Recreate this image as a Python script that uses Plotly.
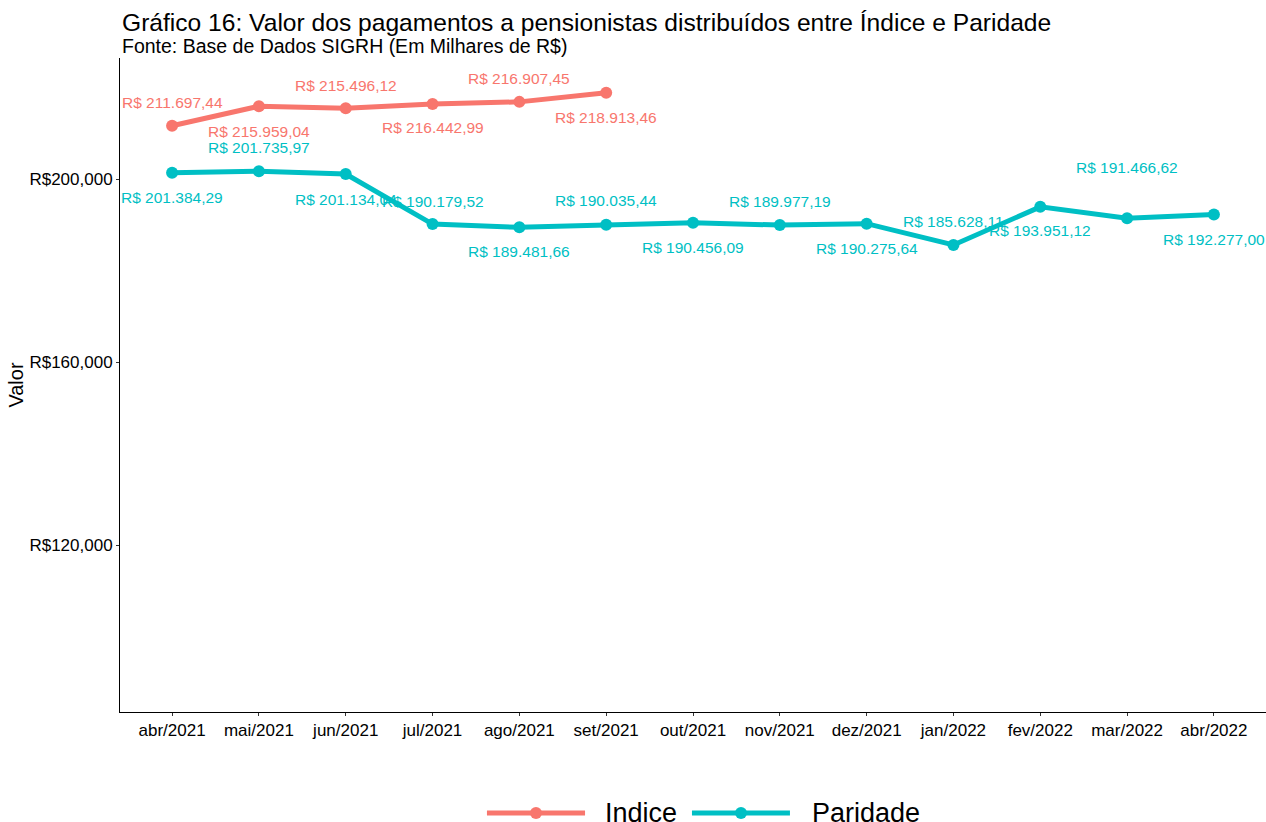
import plotly.graph_objects as go

months = ["abr/2021", "mai/2021", "jun/2021", "jul/2021", "ago/2021", "set/2021",
          "out/2021", "nov/2021", "dez/2021", "jan/2022", "fev/2022", "mar/2022", "abr/2022"]
indice = [211697.44, 215959.04, 215496.12, 216442.99, 216907.45, 218913.46]
paridade = [201384.29, 201735.97, 201134.04, 190179.52, 189481.66, 190035.44,
            190456.09, 189977.19, 190275.64, 185628.11, 193951.12, 191466.62, 192277.00]
series_names = ["Indice", "Paridade"]

# label vertical offsets (pixels, positive = up)
indice_shift = [23, -25, 23, -24, 23, -25]
paridade_shift = [-25, 24, -25, 23, -24, 24, -25, 24, -25, 23, -24, 51, -25]

C_IND = "#F8766D"
C_PAR = "#00BFC4"
FONT = "Liberation Sans, Arial, sans-serif"


def fmt_brl(v):
    s = f"{v:,.2f}"
    s = s.replace(",", "X").replace(".", ",").replace("X", ".")
    return "R$ " + s


fig = go.Figure()
fig.add_trace(go.Scatter(x=months[:len(indice)], y=indice, mode="lines+markers", name=series_names[0],
                         line=dict(color=C_IND, width=5), marker=dict(size=12, color=C_IND),
                         showlegend=False))
fig.add_trace(go.Scatter(x=months, y=paridade, mode="lines+markers", name=series_names[1],
                         line=dict(color=C_PAR, width=5), marker=dict(size=12, color=C_PAR),
                         showlegend=False))

annotations = []
for series, shifts, col in ((indice, indice_shift, C_IND), (paridade, paridade_shift, C_PAR)):
    for m, v, s in zip(months, series, shifts):
        annotations.append(dict(x=m, y=v, xref="x", yref="y", text=fmt_brl(v), showarrow=False,
                                yshift=s, font=dict(family=FONT, size=15.5, color=col)))

annotations.append(dict(x=0, y=1.0, xref="paper", yref="paper", xanchor="left", yanchor="bottom",
                        yshift=20, text="Gráfico 16: Valor dos pagamentos a pensionistas distribuídos entre Índice e Paridade",
                        showarrow=False, font=dict(family=FONT, size=24.6, color="black")))
annotations.append(dict(x=0, y=1.0, xref="paper", yref="paper", xanchor="left", yanchor="bottom",
                        yshift=-1, text="Fonte: Base de Dados SIGRH (Em Milhares de R$)",
                        showarrow=False, font=dict(family=FONT, size=19.5, color="black")))

# manual legend (paper coordinates)
shapes = []
leg_y = -0.1544
for name, col, x0, x1, xm, xt in ((series_names[0], C_IND, 0.3202, 0.4058, 0.363, 0.4215),
                                  (series_names[1], C_PAR, 0.4991, 0.5846, 0.5419, 0.6021)):
    shapes.append(dict(type="line", xref="paper", yref="paper", x0=x0, x1=x1, y0=leg_y, y1=leg_y,
                       line=dict(color=col, width=5)))
    shapes.append(dict(type="circle", xref="paper", yref="paper", xsizemode="pixel", ysizemode="pixel",
                       xanchor=xm, yanchor=leg_y, x0=-6, x1=6, y0=-6, y1=6,
                       fillcolor=col, line=dict(color=col, width=0)))
    annotations.append(dict(x=xt, y=leg_y, xref="paper", yref="paper", xanchor="left", yanchor="middle",
                            text=name, showarrow=False, font=dict(family=FONT, size=27, color="black")))

fig.update_layout(
    width=1266, height=822,
    margin=dict(l=120, r=0, t=58, b=110),
    paper_bgcolor="white", plot_bgcolor="white",
    font=dict(family=FONT, color="black"),
    annotations=annotations,
    shapes=shapes,
    showlegend=False,
    xaxis=dict(type="category", categoryorder="array", categoryarray=months,
               range=[-0.6, 12.6], showline=True, linecolor="black", linewidth=1,
               ticks="outside", ticklen=3, tickcolor="#333", showgrid=False, automargin=False,
               tickfont=dict(family=FONT, size=17, color="black"), zeroline=False),
    yaxis=dict(range=[83500, 226500], tickvals=[120000, 160000, 200000],
               ticktext=["R$120,000", "R$160,000", "R$200,000"],
               showline=True, linecolor="black", linewidth=1, ticks="outside", ticklen=3,
               tickcolor="#333", showgrid=False, zeroline=False, automargin=False,
               tickfont=dict(family=FONT, size=17, color="black"),
               title=dict(text="Valor", font=dict(family=FONT, size=20, color="black"), standoff=0)),
)

fig.write_html("out.html", config={"displayModeBar": False},
               post_script="document.body.style.margin='0px';")
